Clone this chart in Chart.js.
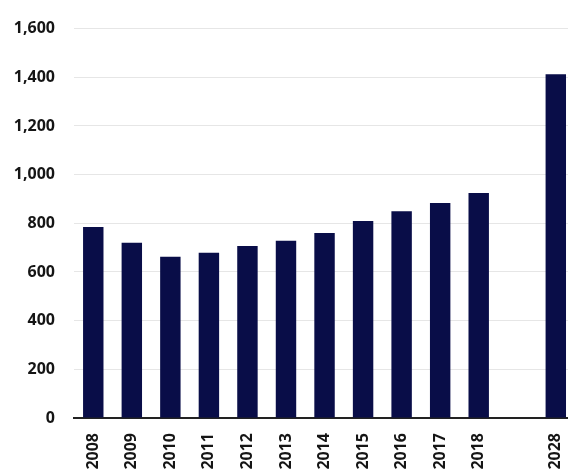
<!DOCTYPE html>
<html>
<head>
<meta charset="utf-8">
<script src="https://cdn.jsdelivr.net/npm/chart.js@4/dist/chart.umd.min.js"></script>
<style>
  html, body { margin: 0; padding: 0; background: #ffffff; overflow: hidden; }
  #wrap { position: relative; width: 582px; height: 473px; }
</style>
</head>
<body>
<div id="wrap"><canvas id="c" width="582" height="473"></canvas></div>
<script>
// Years on the category axis; the blank entry leaves a gap before the 2028 projection
const years = ['2008', '2009', '2010', '2011', '2012', '2013', '2014', '2015', '2016', '2017', '2018', '', '2028'];
const values = [785, 720, 663, 679, 707, 728, 760, 809, 850, 883, 924, null, 1412];
const yTicks = [0, 200, 400, 600, 800, 1000, 1200, 1400, 1600];

const barColor = '#090d48';
const textColor = '#151515';
const font = { family: '"Open Sans", "DejaVu Sans", sans-serif', weight: '700' };

new Chart(document.getElementById('c'), {
  type: 'bar',
  data: {
    labels: years,
    datasets: [{
      data: values,
      backgroundColor: barColor,
      borderWidth: 0,
      categoryPercentage: 1.0,
      barPercentage: 0.53
    }]
  },
  options: {
    responsive: false,
    animation: false,
    layout: { padding: { top: 25, left: 0, right: 0, bottom: 0 } },
    plugins: {
      legend: { display: false },
      tooltip: { enabled: false }
    },
    scales: {
      x: {
        grid: { display: false },
        border: { display: true, color: '#222222', width: 2 },
        ticks: {
          color: textColor,
          font: Object.assign({ size: 16 }, font),
          minRotation: 90,
          maxRotation: 90,
          autoSkip: false,
          padding: 7
        },
        afterFit: s => { s.height = 55; }
      },
      y: {
        min: 0,
        max: 1600,
        afterBuildTicks: s => { s.ticks = yTicks.map(v => ({ value: v })); },
        grid: { color: '#e6e6e6', lineWidth: 1, drawTicks: false },
        border: { display: false },
        ticks: {
          color: textColor,
          font: Object.assign({ size: 16 }, font),
          padding: 19,
          callback: v => v.toLocaleString('en-US')
        },
        afterFit: s => { s.width = 74; }
      }
    }
  }
});
</script>
</body>
</html>
